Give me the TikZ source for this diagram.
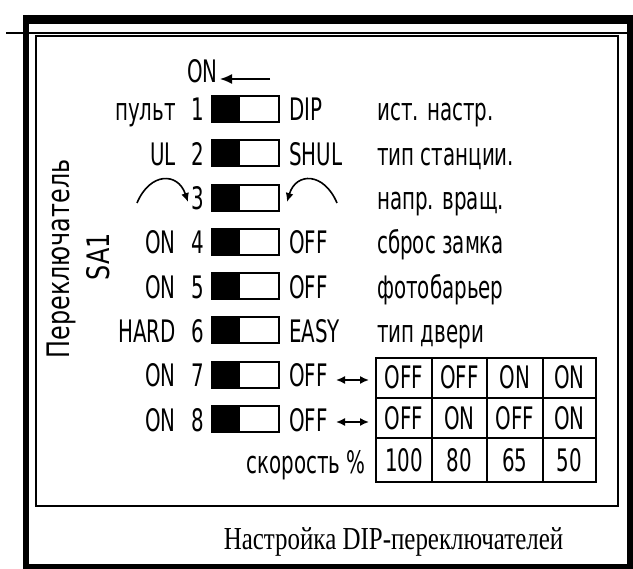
\documentclass[tikz,border=0pt]{standalone}
\usepackage{fontspec}
\usetikzlibrary{arrows.meta}
\setmainfont[FakeStretch=0.78]{Liberation Serif}
\newfontfamily\gost[FakeStretch=0.64]{DejaVu Sans}
\newfontfamily\gostwide[FakeStretch=0.77]{DejaVu Sans}
\tikzset{
	lbl/.style={font=\gost\fontsize{31}{36}\selectfont,inner sep=0pt},
	sidelbl/.style={font=\gostwide\fontsize{31}{36}\selectfont,inner sep=0pt,rotate=90},
	swbox/.style={draw,line width=2pt,minimum width=67pt,minimum height=26pt,inner sep=0pt,
		path picture={\fill (path picture bounding box.south west) rectangle ([xshift=28pt]path picture bounding box.north west);}},
	tip/.tip={Latex[length=9pt,width=8pt]},
	bigtip/.tip={Latex[length=12pt,width=10pt]}
}
\begin{document}
\begin{tikzpicture}[x=1pt,y=-1pt]
	\useasboundingbox (0,0) rectangle (633,569);
	\draw [line width=9] (23,19.5)--(633,19.5);
	\draw [line width=6] (26,15)--(26,569);
	\draw [line width=6] (630,15)--(630,569);
	\draw [line width=5] (23,566.5)--(633,566.5);
	\draw [line width=1.5] (6,33)--(628,33);
	\draw [line width=1.5] (36,36) rectangle (618,506);
	\node [sidelbl] (title) at (61,259) {Переключатель};
	\node [sidelbl] (sa) at (98.5,256.5) {SA1};
	\node [lbl,anchor=base west] (on) at (187,83) {ON};
	\coordinate (ontail) at (270,79);
	\coordinate (onhead) at (220,79);
	\draw [-bigtip,line width=1.5] (ontail)--(onhead);
	\foreach \i in {1,...,8} {
		\pgfmathsetmacro\y{109+(\i-1)*44.3}
		\node [swbox] (sw\i) at (245.5,\y) {};
		\node [lbl,anchor=base] (n\i) at (198,\y+12) {\i};
	}
	\foreach \i/\t in {1/пульт,2/UL,4/ON,5/ON,6/HARD,7/ON,8/ON} 
		\node [lbl,anchor=base east] (l\i) at (176,{109+(\i-1)*44.3+12}) {\t};
	\foreach \i/\t in {1/DIP,2/SHUL,4/OFF,5/OFF,6/EASY,7/OFF,8/OFF} 
		\node [lbl,anchor=base west] (r\i) at (289,{109+(\i-1)*44.3+12}) {\t};
	\foreach \i/\t in {1/ист. настр.,2/тип станции.,3/напр. вращ.,4/сброс замка,5/фотобарьер,6/тип двери} 
		\node [lbl,anchor=base west] (d\i) at (377,{109+(\i-1)*44.3+12}) {\t};
	\coordinate (la) at (137,203);
	\coordinate (lb) at (188,202);
	\draw [-tip,line width=1.6] (la) .. controls (150,172) and (178,172) .. (lb);
	\coordinate (ra) at (337,203);
	\coordinate (rb) at (287,202);
	\draw [-tip,line width=1.6] (ra) .. controls (324,172) and (296,172) .. (rb);
	\coordinate (da7) at (336,380);
	\coordinate (db7) at (369,380);
	\draw [tip-tip,line width=1.6] (da7)--(db7);
	\coordinate (da8) at (336,422);
	\coordinate (db8) at (369,422);
	\draw [tip-tip,line width=1.6] (da8)--(db8);
	\node [lbl,anchor=base east] (speed) at (366,474) {скорость \%};
	\draw [line width=1.5] (376,358) rectangle (596,482);
	\draw [line width=1.5] (376,398)--(596,398);
	\draw [line width=1.5] (376,438)--(596,438);
	\foreach \x in {432,487,543} 
		\draw [line width=1.5] (\x,358)--(\x,482);
	\foreach \c/\a/\b/\s [count=\j] in {404/OFF/OFF/100,459.5/OFF/ON/80,515/ON/OFF/65,569.5/ON/ON/50} {
		\node [lbl,anchor=base] (ta\j) at (\c,389) {\a};
		\node [lbl,anchor=base] (tb\j) at (\c,430) {\b};
		\node [lbl,anchor=base] (ts\j) at (\c,472) {\s};
	}
	\node [font=\fontsize{32}{38}\selectfont,anchor=base] (cap) at (393.5,550) {Настройка DIP-переключателей};
\end{tikzpicture}
\end{document}
